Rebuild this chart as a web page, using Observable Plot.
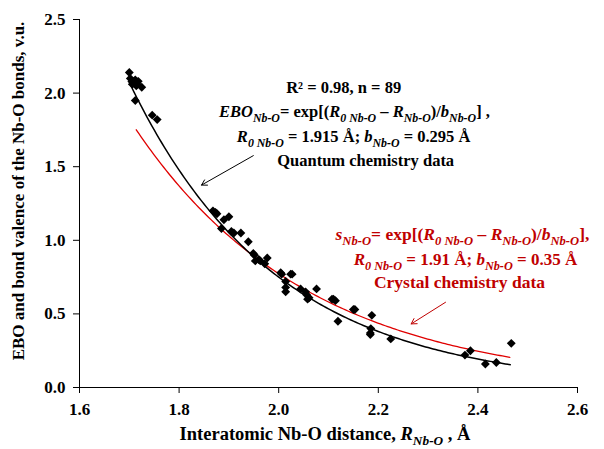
<!DOCTYPE html>
<html>
<head>
<meta charset="utf-8">
<script src="https://cdn.jsdelivr.net/npm/d3@7"></script>
<script src="https://cdn.jsdelivr.net/npm/@observablehq/plot@0.6"></script>
<style>
  body { margin: 0; background: #fff; }
  #chart svg { display: block; }
</style>
</head>
<body>
<div id="chart"></div>
<script>
// Nb-O bond lengths (Å) and effective bond orders from quantum-chemical calculations
const distance = [
  1.700, 1.702, 1.705, 1.708, 1.712, 1.706, 1.716, 1.710, 1.714, 1.718, 1.725, 1.712, 1.746, 1.756,
  1.868, 1.873, 1.876, 1.890, 1.900, 1.885, 1.905, 1.910, 1.924, 1.939, 1.949, 1.951, 1.953, 1.960,
  1.963, 1.972, 1.977, 2.004, 2.006, 2.014, 2.014, 2.014, 2.024, 2.027, 2.044, 2.054, 2.056, 2.058,
  2.061, 2.076, 2.107, 2.110, 2.114, 2.119, 2.150, 2.153, 2.187, 2.185, 2.184, 2.184, 2.225, 2.374,
  2.385, 2.415, 2.437, 2.467
];
const valence = [
  2.14, 2.10, 2.08, 2.07, 2.09, 2.06, 2.06, 2.08, 2.05, 2.08, 2.04, 1.95, 1.85, 1.82,
  1.20, 1.19, 1.18, 1.14, 1.16, 1.08, 1.06, 1.05, 1.05, 0.99, 0.91, 0.90, 0.86, 0.87,
  0.86, 0.84, 0.88, 0.78, 0.77, 0.72, 0.68, 0.65, 0.77, 0.77, 0.67, 0.65, 0.63, 0.60,
  0.61, 0.67, 0.60, 0.60, 0.59, 0.45, 0.53, 0.53, 0.49, 0.40, 0.37, 0.36, 0.33, 0.22,
  0.25, 0.16, 0.17, 0.30
];

// Bond-valence parameters: [R0, b, first R, last R]
const quantumParams = [1.915, 0.295, 1.700, 2.465];
const crystalParams = [1.91, 0.35, 1.714, 2.465];

// Axis ticks
const xTicks = [1.6, 1.8, 2.0, 2.2, 2.4, 2.6];
const yTicks = [0.0, 0.5, 1.0, 1.5, 2.0, 2.5];

// Pointer arrows [x1, y1, x2, y2] in data units
const quantumArrow = [1.949, 1.575, 1.845, 1.375];
const crystalArrow = [2.335, 0.579, 2.266, 0.432];

const points = distance.map((R, i) => ({R, v: valence[i]}));

// s = exp[(R0 - R)/b] sampled along the bond-length range
function bondValenceCurve([R0, b, from, to]) {
  return d3.range(from, to + 1e-9, 0.005).map(R => ({R, v: Math.exp((R0 - R) / b)}));
}
const quantumCurve = bondValenceCurve(quantumParams);
const crystalCurve = bondValenceCurve(crystalParams);

const serif = "Liberation Serif, Times New Roman, Times, DejaVu Serif, serif";
const red = "#c00000";

const plot = Plot.plot({
  width: 604,
  height: 449,
  marginLeft: 79,
  marginRight: 27,
  marginTop: 19,
  marginBottom: 62,
  style: {fontFamily: serif, fontSize: "17px", fontWeight: "bold", color: "black", background: "white"},
  x: {domain: [1.6, 2.6]},
  y: {domain: [0, 2.5]},
  marks: [
    Plot.axisX({ticks: xTicks, tickFormat: d3.format(".1f"), tickSize: 6, tickPadding: 9, label: null}),
    Plot.axisY({ticks: yTicks, tickFormat: d3.format(".1f"), tickSize: 6, tickPadding: 8, label: null}),
    Plot.ruleX([1.6], {stroke: "black", strokeWidth: 1}),
    Plot.ruleY([0], {stroke: "black", strokeWidth: 1}),
    Plot.line(crystalCurve, {x: "R", y: "v", stroke: "#e00000", strokeWidth: 1.3}),
    Plot.line(quantumCurve, {x: "R", y: "v", stroke: "black", strokeWidth: 1.5}),
    Plot.dot(points, {x: "R", y: "v", symbol: "diamond2", r: 4, fill: "black", stroke: "none"}),
    Plot.arrow([quantumArrow], {x1: d => d[0], y1: d => d[1], x2: d => d[2], y2: d => d[3],
      stroke: "black", strokeWidth: 1, headLength: 9, bend: false}),
    Plot.arrow([crystalArrow], {x1: d => d[0], y1: d => d[1], x2: d => d[2], y2: d => d[3],
      stroke: red, strokeWidth: 1, headLength: 9, bend: false})
  ]
});

document.getElementById("chart").append(plot);

const sx = plot.scale("x"), sy = plot.scale("y");
const svg = d3.select(plot);

// Text with italic parts and subscripts; parts are [text, italic, subscript]
function richText(x, y, parts, {fill = "black", size = 16.5, anchor = "middle", rotate = 0, subScale = 0.72} = {}) {
  const t = svg.append("text")
    .attr("transform", `translate(${x},${y}) rotate(${rotate})`)
    .attr("text-anchor", anchor)
    .style("font-family", serif)
    .attr("font-weight", "bold")
    .attr("font-size", size)
    .attr("fill", fill);
  let shift = 0;
  for (const [str, italic, sub] of parts) {
    const s = t.append("tspan").text(str);
    if (italic) s.attr("font-style", "italic");
    const target = sub ? size * 0.27 : 0;
    if (target !== shift) { s.attr("dy", target - shift); shift = target; }
    if (sub) s.attr("font-size", size * subScale);
  }
  return t;
}

// Quantum chemistry fit annotation (left-aligned lines)
const blackText = {anchor: "start", size: 16.5};
richText(sx.apply(2.016), sy.apply(1.996), [["R² = 0.98, n = 89"]], blackText);
richText(sx.apply(1.881), sy.apply(1.833), [
  ["EBO", true], ["Nb-O", true, true], ["= exp[("], ["R", true], ["0 Nb-O", true, true],
  [" – "], ["R", true], ["Nb-O", true, true], [")/"], ["b", true], ["Nb-O", true, true], ["] ,"]
], blackText);
richText(sx.apply(1.917), sy.apply(1.663), [
  ["R", true], ["0 Nb-O", true, true], [" = 1.915 Å; "], ["b", true], ["Nb-O", true, true], [" = 0.295 Å"]
], blackText);
richText(sx.apply(1.998), sy.apply(1.500), [["Quantum chemistry data"]], blackText);

// Crystal chemistry annotation
const redText = {fill: red, size: 17.5};
richText(sx.apply(2.370), sy.apply(0.998), [
  ["s", true], ["Nb-O", true, true], ["= exp[("], ["R", true], ["0 Nb-O", true, true],
  [" – "], ["R", true], ["Nb-O", true, true], [")/"], ["b", true], ["Nb-O", true, true], ["],"]
], redText);
richText(sx.apply(2.376), sy.apply(0.828), [
  ["R", true], ["0 Nb-O", true, true], [" = 1.91 Å; "], ["b", true], ["Nb-O", true, true], [" = 0.35 Å"]
], {...redText, size: 17});
richText(sx.apply(2.364), sy.apply(0.672), [["Crystal chemistry data"]], redText);

// Axis titles
richText(sx.apply(2.094), 440, [
  ["Interatomic Nb-O distance, "], ["R", true], ["Nb-O", true, true], [" , Å"]
], {size: 18.5});
richText(24, 191, [["EBO and bond valence of the Nb-O bonds, v.u."]], {size: 17, rotate: -90});
</script>
</body>
</html>
